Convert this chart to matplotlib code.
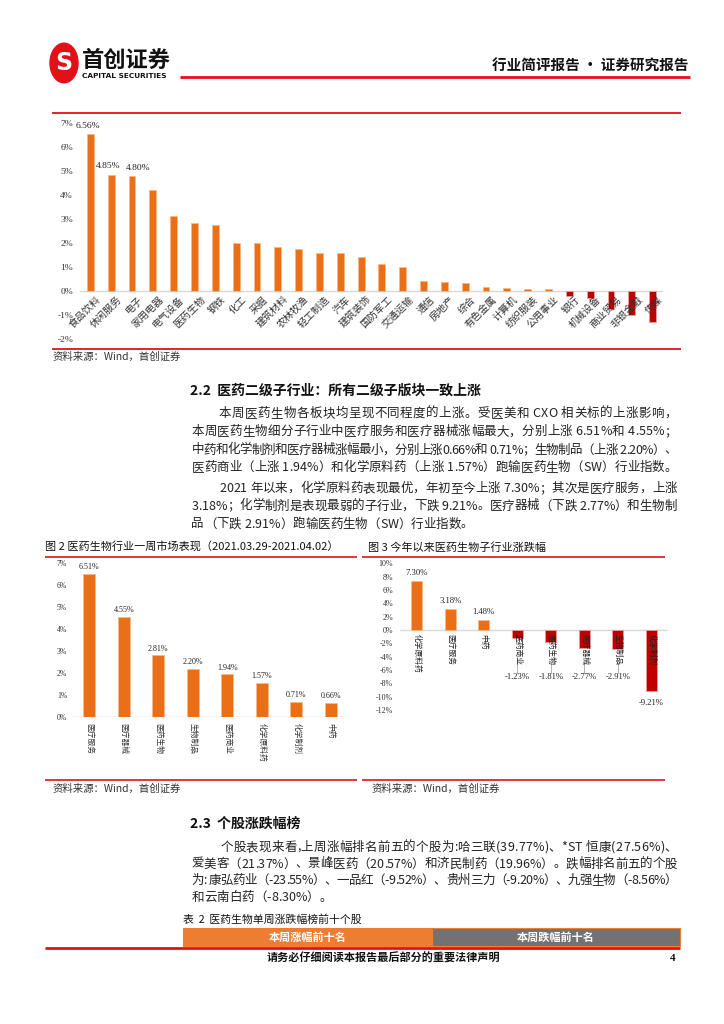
import matplotlib
matplotlib.use("Agg")
import matplotlib.pyplot as plt
from matplotlib.lines import Line2D
from matplotlib.patches import Rectangle, Circle
from matplotlib.font_manager import FontProperties

CJK = ["Noto Sans CJK SC", "DejaVu Sans"]
SERIF = ["Liberation Serif", "DejaVu Serif"]
plt.rcParams["font.family"] = CJK

# ---------------- data ----------------
industries = ["食品饮料", "休闲服务", "电子", "家用电器", "电气设备", "医药生物", "钢铁",
              "化工", "采掘", "建筑材料", "农林牧渔", "轻工制造", "汽车", "建筑装饰",
              "国防军工", "交通运输", "通信", "房地产", "综合", "有色金属", "计算机",
              "纺织服装", "公用事业", "银行", "机械设备", "商业贸易", "非银金融", "传媒"]
industry_chg = [6.56, 4.85, 4.80, 4.22, 3.11, 2.82, 2.77, 2.01, 2.01, 1.85, 1.76, 1.60,
                1.56, 1.40, 1.11, 1.00, 0.43, 0.35, 0.32, 0.14, 0.10, 0.07, 0.07,
                -0.22, -0.30, -0.77, -1.01, -1.31]
industry_label_dx = [-0.1, -0.15, 0.3]  # only the first three bars carry a value label

sub_week_names = ["医疗服务", "医疗器械", "医药生物", "生物制品", "医药商业", "化学原料药", "化学制剂", "中药"]
sub_week_chg = [6.51, 4.55, 2.81, 2.20, 1.94, 1.57, 0.71, 0.66]

sub_ytd_names = ["化学原料药", "医疗服务", "中药", "医药商业", "医药生物", "医疗器械", "生物制品", "化学制剂"]
sub_ytd_chg = [7.30, 3.18, 1.48, -1.23, -1.81, -2.77, -2.91, -9.21]

ORANGE = "#EB6F16"
DARKRED = "#C00000"
RED = "#E3101A"
GRID = "#D9D9D9"

W, H = 724, 1024
fig = plt.figure(figsize=(W / 100, H / 100), dpi=100)
renderer = fig.canvas.get_renderer()


def fx(x):
    return x / W


def fy(y):
    return 1 - y / H


def hline(x1, x2, y, color=RED, lw=1.3):
    fig.add_artist(Line2D([fx(x1), fx(x2)], [fy(y), fy(y)], transform=fig.transFigure,
                          color=color, lw=lw, solid_capstyle="butt"))


def axes_px(l, t, r, b):
    return fig.add_axes([fx(l), fy(b), (r - l) / W, (b - t) / H])


def txt(x, y, s, size=9, **kw):
    kw.setdefault("va", "center")
    kw.setdefault("ha", "left")
    kw.setdefault("family", CJK)
    return fig.text(fx(x), fy(y), s, fontsize=size, **kw)


def justified(s, x0, x1, y, size=9, justify=True, color="#222222"):
    prop = FontProperties(family=CJK, size=size)
    widths = [renderer.get_text_width_height_descent(c, prop, ismath=False)[0] for c in s]
    total = sum(widths)
    extra = (x1 - x0 - total) / (len(s) - 1) if (justify and len(s) > 1) else 0.0
    x = x0
    for c, w in zip(s, widths):
        if c != " ":
            fig.text(fx(x), fy(y), c, fontsize=size, family=CJK, color=color,
                     va="center", ha="left")
        x += w + extra


def style_axes(ax):
    for sp in ax.spines.values():
        sp.set_visible(False)
    ax.tick_params(axis="both", length=0)
    ax.set_xticks([])


# ---------------- header ----------------
fig.add_artist(Circle((fx(64), fy(63)), 14 / W, transform=fig.transFigure,
                      color="#E3101A", zorder=3))
txt(64, 63.5, "S", 17, color="white", weight="bold", ha="center", family=["DejaVu Sans"], zorder=4)
txt(82, 60, "首创证券", 16, weight="heavy", color="#111111")
txt(82, 76.5, "CAPITAL SECURITIES", 5.3, weight="bold", color="#111111", family=["DejaVu Sans"])
hline(180, 690, 77, lw=2.0)
txt(688, 66, "行业简评报告 · 证券研究报告", 10.5, weight="bold", ha="right", color="#111111")

# ---------------- top chart ----------------
hline(52, 681, 112.7, lw=1.3)
hline(52, 681, 349.3, lw=1.3)
ax1 = axes_px(80, 123.3, 663, 338.7)
x1 = list(range(len(industries)))
cols1 = [ORANGE if v >= 0 else DARKRED for v in industry_chg]
edges1 = ["#F6B98A" if v >= 0 else "#F0A0A0" for v in industry_chg]
ax1.bar(x1, industry_chg, width=0.33, color=cols1, edgecolor=edges1, linewidth=0.6, zorder=2)
ax1.axhline(0, color=GRID, lw=1.0, zorder=1)
ax1.set_xlim(-0.5, len(industries) - 0.5)
ax1.set_ylim(-2, 7)
style_axes(ax1)
ax1.set_yticks(range(-2, 8))
ax1.set_yticklabels([f"{t}%" for t in range(-2, 8)], fontsize=6.8, family=SERIF, color="#333333")
ax1.tick_params(axis="y", pad=5)
for i, (name, v) in enumerate(zip(industries, industry_chg)):
    ax1.text(i + 0.25, -0.15, name, rotation=45, rotation_mode="anchor", ha="right", va="top",
             fontsize=7.2, color="#333333", family=CJK, zorder=3)
for i, dx in enumerate(industry_label_dx):
    v = industry_chg[i]
    ax1.text(i + dx, v + 0.18, f"{v:.2f}%", ha="center", va="bottom", fontsize=6.8,
             family=SERIF, color="#222222")
txt(53, 357, "资料来源：Wind，首创证券", 7.5, style="italic", color="#333333")

# ---------------- section 2.2 ----------------
txt(190, 390.5, "2.2  医药二级子行业：所有二级子版块一致上涨", 10, weight="bold", color="#111111")
R = 677
para22 = [
    ("本周医药生物各板块均呈现不同程度的上涨。受医美和 CXO 相关标的上涨影响，", 219, 413.3, True),
    ("本周医药生物细分子行业中医疗服务和医疗器械涨幅最大，分别上涨 6.51%和 4.55%；", 191.5, 431.7, True),
    ("中药和化学制剂和医疗器械涨幅最小，分别上涨0.66%和 0.71%；生物制品（上涨 2.20%）、", 191.5, 450, True),
    ("医药商业（上涨 1.94%）和化学原料药（上涨 1.57%）跑输医药生物（SW）行业指数。", 191.5, 467.3, True),
    ("2021 年以来，化学原料药表现最优，年初至今上涨 7.30%；其次是医疗服务，上涨", 219, 488.3, True),
    ("3.18%；化学制剂是表现最弱的子行业，下跌 9.21%。医疗器械（下跌 2.77%）和生物制", 191.5, 506, True),
    ("品（下跌 2.91%）跑输医药生物（SW）行业指数。", 191.5, 524, False),
]
for s, x0, y, j in para22:
    justified(s, x0, R, y, 9, j)

# ---------------- figure 2 ----------------
txt(45, 547.5, "图 2 医药生物行业一周市场表现（2021.03.29-2021.04.02）", 8, weight="medium", color="#111111")
hline(45, 357, 556.7, lw=1.2)
hline(45, 357, 780, lw=1.2)
ax2 = axes_px(72, 562.7, 348, 717.3)
x2 = list(range(len(sub_week_names)))
ax2.bar(x2, sub_week_chg, width=0.35, color=ORANGE, edgecolor="#F6B98A", linewidth=0.5, zorder=2)
ax2.axhline(0, color=GRID, lw=1.0, zorder=1)
ax2.set_xlim(-0.5, len(sub_week_names) - 0.5)
ax2.set_ylim(0, 7)
style_axes(ax2)
ax2.set_yticks(range(0, 8))
ax2.set_yticklabels([f"{t}%" for t in range(0, 8)], fontsize=5.5, family=SERIF, color="#333333")
ax2.tick_params(axis="y", pad=3.5)
for i, (name, v) in enumerate(zip(sub_week_names, sub_week_chg)):
    ax2.text(i, v + 0.12, f"{v:.2f}%", ha="center", va="bottom", fontsize=5.8,
             family=SERIF, color="#222222")
    ax2.text(i, -0.25, name, rotation=-90, ha="center", va="top", fontsize=5.6,
             color="#333333", family=CJK)
txt(53, 788.5, "资料来源：Wind，首创证券", 7.5, style="italic", color="#333333")

# ---------------- figure 3 ----------------
txt(368, 547.5, "图 3 今年以来医药生物子行业涨跌幅", 8, weight="medium", color="#111111")
hline(362, 665, 556.7, lw=1.2)
hline(362, 665, 780, lw=1.2)
ax3 = axes_px(400, 563.3, 668, 710)
x3 = list(range(len(sub_ytd_names)))
cols3 = [ORANGE if v >= 0 else DARKRED for v in sub_ytd_chg]
edges3 = ["#F6B98A" if v >= 0 else "#F0A0A0" for v in sub_ytd_chg]
ax3.bar(x3, sub_ytd_chg, width=0.32, color=cols3, edgecolor=edges3, linewidth=0.5, zorder=2)
ax3.axhline(0, color=GRID, lw=1.0, zorder=1)
ax3.set_xlim(-0.5, len(sub_ytd_names) - 0.5)
ax3.set_ylim(-12, 10)
style_axes(ax3)
ax3.set_yticks(range(-12, 11, 2))
ax3.set_yticklabels([f"{t}%" for t in range(-12, 11, 2)], fontsize=5.8, family=SERIF, color="#333333")
ax3.tick_params(axis="y", pad=5)
for i, (name, v) in enumerate(zip(sub_ytd_names, sub_ytd_chg)):
    ax3.text(i, -0.6, name, rotation=-90, ha="center", va="top", fontsize=5.6,
             color="#222222", family=CJK, zorder=4)
    if v >= 0:
        ax3.text(i, v + 0.6, f"{v:.2f}%", ha="center", va="bottom", fontsize=6.2,
                 family=SERIF, color="#222222")
    else:
        ly = min(v - 1.7, -7.1)
        if ly < v - 2.5:
            ax3.plot([i, i], [-5.0, ly + 0.7], color="#A6A6A6", lw=0.6, zorder=1)
        ax3.text(i, ly, f"{v:.2f}%", ha="center", va="center", fontsize=6.2,
                 family=SERIF, color="#222222")
txt(372, 788.5, "资料来源：Wind，首创证券", 7.5, style="italic", color="#333333")

# ---------------- section 2.3 ----------------
txt(190, 823.5, "2.3  个股涨跌幅榜", 10, weight="bold", color="#111111")
para23 = [
    ("个股表现来看,上周涨幅排名前五的个股为:哈三联(39.77%)、*ST 恒康(27.56%)、", 220.5, 847.5, True),
    ("爱美客（21.37%）、景峰医药（20.57%）和济民制药（19.96%）。跌幅排名前五的个股", 191.5, 864, True),
    ("为: 康弘药业（-23.55%）、一品红（-9.52%）、贵州三力（-9.20%）、九强生物（-8.56%）", 191.5, 880.5, True),
    ("和云南白药（-8.30%）。", 191.5, 897.5, False),
]
for s, x0, y, j in para23:
    justified(s, x0, R, y, 9, j)

# ---------------- table header ----------------
txt(183.5, 919.5, "表  2  医药生物单周涨跌幅榜前十个股", 7.8, color="#111111")
fig.add_artist(Rectangle((fx(183.5), fy(945.5)), (432 - 183.5) / W, 17.5 / H,
                         transform=fig.transFigure, facecolor="#ED7D31", edgecolor="#ED7D31", lw=0.8))
fig.add_artist(Rectangle((fx(432), fy(945.5)), (680 - 432) / W, 17.5 / H,
                         transform=fig.transFigure, facecolor="#767171", edgecolor="#ED7D31", lw=0.8))
txt(307.5, 937, "本周涨幅前十名", 8, color="white", weight="bold", ha="center")
txt(556, 937, "本周跌幅前十名", 8, color="white", weight="bold", ha="center")

# ---------------- footer ----------------
hline(45, 680, 947.5, lw=2.0)
txt(383, 958.5, "请务必仔细阅读本报告最后部分的重要法律声明", 8, weight="bold", ha="center", color="#111111")
txt(676, 958.5, "4", 8, weight="bold", ha="right", family=SERIF, color="#111111")

fig.savefig("out.png", dpi=100)
